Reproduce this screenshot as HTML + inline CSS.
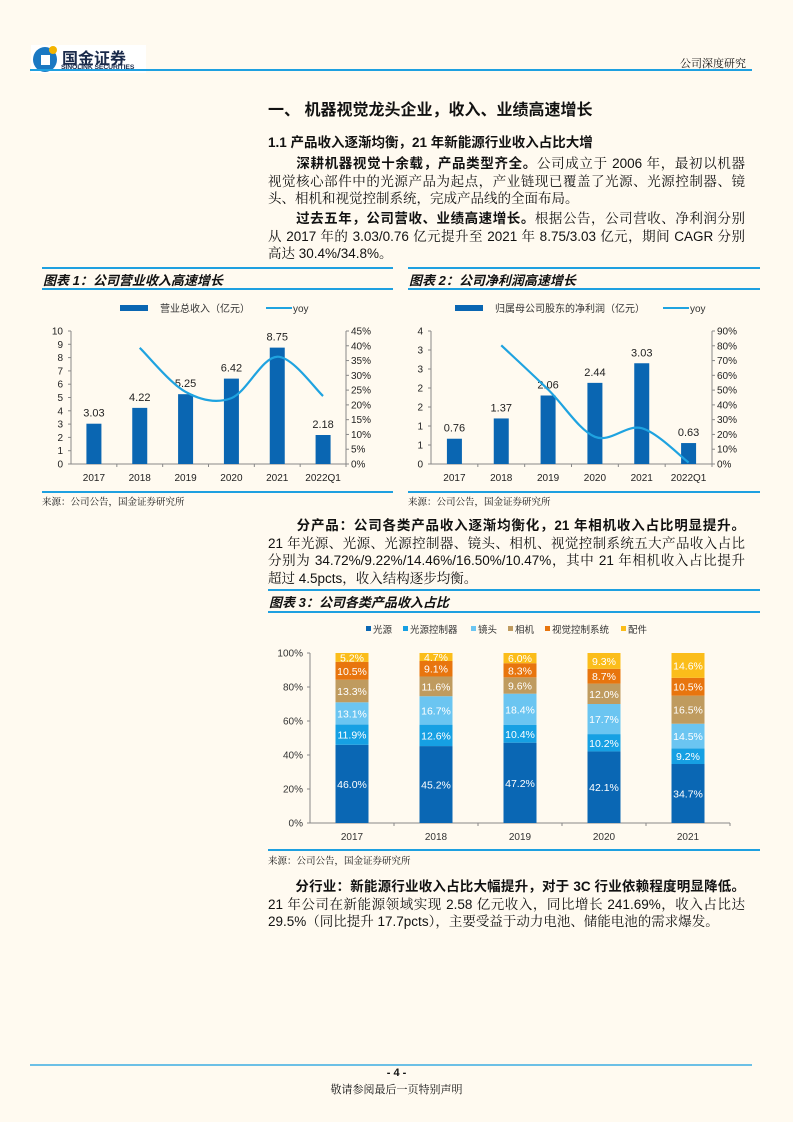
<!DOCTYPE html>
<html><head><meta charset="utf-8">
<style>
html,body{margin:0;padding:0;background:#fffaf0;}
body{width:793px;height:1122px;position:relative;overflow:hidden;font-family:"Liberation Sans","Noto Serif CJK SC","Noto Sans CJK SC",serif;color:#111;}
.abs{position:absolute;}
.ln{position:absolute;left:268px;width:477px;font-size:13.5px;line-height:17px;white-space:nowrap;text-align:justify;text-align-last:justify;}
.last{text-align-last:left;}
b{font-family:"Liberation Sans","Noto Sans CJK SC",sans-serif;font-weight:bold;}
.ct{position:absolute;font-family:"Liberation Sans","Noto Sans CJK SC",sans-serif;font-weight:bold;font-style:italic;font-size:13px;}
.hr{position:absolute;height:2px;background:#1ea0e0;}
.src{position:absolute;font-size:9.5px;font-family:"Liberation Serif","Noto Serif CJK SC",serif;}
svg text{font-family:"Liberation Sans","Noto Sans CJK SC",sans-serif;}
</style></head><body>
<div class="abs" style="left:31px;top:45px;width:115px;height:28px;background:#fff;">
  <div class="abs" style="left:2px;top:2px;width:24px;height:25px;border-radius:50%;background:#1a78c2;"></div>
  <div class="abs" style="left:10px;top:10px;width:9px;height:10px;background:#fff;"></div>
  <div class="abs" style="left:18px;top:1px;width:8px;height:8px;border-radius:50%;background:#f4b400;"></div>
  <div class="abs" style="left:31px;top:0px;font-size:16px;font-weight:bold;font-family:'Liberation Sans','Noto Sans CJK SC',sans-serif;color:#1a2a4a;">国金证券</div>
  <div class="abs" style="left:30px;top:19px;font-size:6.8px;font-weight:bold;color:#1a2a4a;letter-spacing:-0.1px;">SINOLINK SECURITIES</div>
</div>
<div class="abs" style="left:680px;top:55px;font-size:11px;">公司深度研究</div>
<div class="hr" style="left:30px;top:69px;width:722px;height:1.5px;"></div>

<div class="abs" style="left:268px;top:96px;font-size:16px;font-weight:bold;font-family:'Liberation Sans','Noto Sans CJK SC',sans-serif;">一、 机器视觉龙头企业，收入、业绩高速增长</div>
<div class="abs" style="left:268px;top:131px;font-size:13.5px;font-weight:bold;font-family:'Liberation Sans','Noto Sans CJK SC',sans-serif;">1.1 产品收入逐渐均衡，21 年新能源行业收入占比大增</div>

<div class="ln" style="top:155px;">　　<b>深耕机器视觉十余载，产品类型齐全。</b>公司成立于 2006 年，最初以机器</div>
<div class="ln" style="top:172.5px;">视觉核心部件中的光源产品为起点，产业链现已覆盖了光源、光源控制器、镜</div>
<div class="ln last" style="top:190px;">头、相机和视觉控制系统，完成产品线的全面布局。</div>
<div class="ln" style="top:210px;">　　<b>过去五年，公司营收、业绩高速增长。</b>根据公告，公司营收、净利润分别</div>
<div class="ln" style="top:227.5px;">从 2017 年的 3.03/0.76 亿元提升至 2021 年 8.75/3.03 亿元，期间 CAGR 分别</div>
<div class="ln last" style="top:245px;">高达 30.4%/34.8%。</div>

<div class="hr" style="left:42px;top:267px;width:351px;"></div>
<div class="hr" style="left:42px;top:288px;width:351px;"></div>
<div class="ct" style="left:43px;top:270px;">图表 1：公司营业收入高速增长</div>
<div class="hr" style="left:408px;top:267px;width:352px;"></div>
<div class="hr" style="left:408px;top:288px;width:352px;"></div>
<div class="ct" style="left:409px;top:270px;">图表 2：公司净利润高速增长</div>
<svg id="c1" class="abs" style="left:0;top:0" width="793" height="520"></svg>
<div class="hr" style="left:42px;top:491px;width:351px;"></div>
<div class="hr" style="left:408px;top:491px;width:352px;"></div>
<div class="src" style="left:42px;top:494px;">来源：公司公告，国金证券研究所</div>
<div class="src" style="left:408px;top:494px;">来源：公司公告，国金证券研究所</div>

<div class="ln" style="top:517px;">　　<b>分产品：公司各类产品收入逐渐均衡化，21 年相机收入占比明显提升。</b></div>
<div class="ln" style="top:534.5px;">21 年光源、光源、光源控制器、镜头、相机、视觉控制系统五大产品收入占比</div>
<div class="ln" style="top:552px;">分别为 34.72%/9.22%/14.46%/16.50%/10.47%，其中 21 年相机收入占比提升</div>
<div class="ln last" style="top:569.5px;">超过 4.5pcts，收入结构逐步均衡。</div>

<div class="hr" style="left:268px;top:589px;width:492px;"></div>
<div class="hr" style="left:268px;top:611px;width:492px;"></div>
<div class="ct" style="left:269px;top:592px;">图表 3：公司各类产品收入占比</div>
<svg id="c3" class="abs" style="left:0;top:0" width="793" height="860"></svg>
<div class="hr" style="left:268px;top:849px;width:492px;"></div>
<div class="src" style="left:268px;top:853px;">来源：公司公告，国金证券研究所</div>

<div class="ln" style="top:878px;">　　<b>分行业：新能源行业收入占比大幅提升，对于 3C 行业依赖程度明显降低。</b></div>
<div class="ln" style="top:895.5px;">21 年公司在新能源领域实现 2.58 亿元收入，同比增长 241.69%，收入占比达</div>
<div class="ln last" style="top:913px;">29.5%（同比提升 17.7pcts），主要受益于动力电池、储能电池的需求爆发。</div>

<div class="abs" style="left:30px;top:1064px;width:722px;height:1.5px;background:#6cc0e6;"></div>
<div class="abs" style="left:0;width:793px;text-align:center;top:1067px;font-size:11px;font-weight:bold;">- 4 -</div>
<div class="abs" style="left:0;width:793px;text-align:center;top:1081px;font-size:11px;">敬请参阅最后一页特别声明</div>

<script>
const cats12 = ["2017","2018","2019","2020","2021","2022Q1"];
const revenue = [3.03,4.22,5.25,6.42,8.75,2.18];
const revYoy = [null,39.3,24.4,22.3,36.3,23.0];
const profit = [0.76,1.37,2.06,2.44,3.03,0.63];
const profitYoy = [null,80.3,50.4,18.4,24.2,1.0];
const leftTicks1 = ["0","1","2","3","4","5","6","7","8","9","10"];
const rightTicks1 = ["0%","5%","10%","15%","20%","25%","30%","35%","40%","45%"];
const leftTicks2 = ["0","1","1","2","2","3","3","4"];
const rightTicks2 = ["0%","10%","20%","30%","40%","50%","60%","70%","80%","90%"];
const cats3 = ["2017","2018","2019","2020","2021"];
const series3 = ["光源","光源控制器","镜头","相机","视觉控制系统","配件"];
const s光源 = [46.0,45.2,47.2,42.1,34.7];
const s控制器 = [11.9,12.6,10.4,10.2,9.2];
const s镜头 = [13.1,16.7,18.4,17.7,14.5];
const s相机 = [13.3,11.6,9.6,12.0,16.5];
const s视觉 = [10.5,9.1,8.3,8.7,10.5];
const s配件 = [5.2,4.7,6.0,9.3,14.6];
const ticks3 = ["0%","20%","40%","60%","80%","100%"];

const NS="http://www.w3.org/2000/svg";
function mk(svg,tag,attrs,txt){const e=document.createElementNS(NS,tag);for(const k in attrs)e.setAttribute(k,attrs[k]);if(txt!=null)e.textContent=txt;svg.appendChild(e);return e;}
function smooth(pts){let d="M"+pts[0][0]+","+pts[0][1];for(let i=0;i<pts.length-1;i++){const p0=pts[i-1]||pts[i],p1=pts[i],p2=pts[i+1],p3=pts[i+2]||p2;const t=6;d+=" C"+(p1[0]+(p2[0]-p0[0])/t)+","+(p1[1]+(p2[1]-p0[1])/t)+" "+(p2[0]-(p3[0]-p1[0])/t)+","+(p2[1]-(p3[1]-p1[1])/t)+" "+p2[0]+","+p2[1];}return d;}

function barLine(svg,o){
  const x0=o.x0,x1=o.x1,yb=464,yt=331,band=(x1-x0)/o.cats.length;
  const xc=i=>x0+band*(i+0.5);
  const yL=v=>yb-(v/o.lmax)*(yb-yt);
  const yR=v=>yb-(v/o.rmax)*(yb-yt);
  let a=mk(svg,"line",{x1:x0,y1:yt,x2:x0,y2:yb,stroke:"#888","stroke-width":1});
  
  a=mk(svg,"line",{x1:x1,y1:yt,x2:x1,y2:yb,stroke:"#888","stroke-width":1});
  
  a=mk(svg,"line",{x1:x0,y1:yb,x2:x1,y2:yb,stroke:"#888","stroke-width":1});
  
  o.lt.forEach((t,i)=>{const y=yb-i*(yb-yt)/(o.lt.length-1);
    mk(svg,"line",{x1:x0-3,y1:y,x2:x0,y2:y,stroke:"#888"});
    const e=mk(svg,"text",{x:x0-8,y:y+3.5,"text-anchor":"end","font-size":10,fill:"#222"},t);
    });
  o.rt.forEach((t,i)=>{const y=yb-i*(yb-yt)/(o.rt.length-1);
    mk(svg,"line",{x1:x1,y1:y,x2:x1+3,y2:y,stroke:"#888"});
    const e=mk(svg,"text",{x:x1+5,y:y+3.5,"font-size":10,fill:"#222"},t);
    });
  o.cats.forEach((c,i)=>{
    mk(svg,"line",{x1:x0+band*(i+1),y1:yb,x2:x0+band*(i+1),y2:yb+3,stroke:"#888"});
    const v=o.bars[i],bw=15;
    const r=mk(svg,"rect",{x:xc(i)-bw/2,y:yL(v),width:bw,height:yb-yL(v),fill:"#0a66b2"});
    
    const l=mk(svg,"text",{x:xc(i),y:yL(v)-7,"text-anchor":"middle","font-size":11,fill:"#222"},v.toFixed(2));
    
    const xl=mk(svg,"text",{x:xc(i),y:481,"text-anchor":"middle","font-size":10,fill:"#222"},c);
    
  });
  const pts=[];o.yoy.forEach((v,i)=>{if(v!=null)pts.push([xc(i),yR(v)]);});
  const p=mk(svg,"path",{d:smooth(pts),fill:"none",stroke:"#1fa3e0","stroke-width":2.2});
  
  const lg=o.lg;
  let s=mk(svg,"rect",{x:lg[0],y:305,width:28,height:6,fill:"#0a66b2"});
  
  s=mk(svg,"text",{x:lg[1],y:312,"font-size":10,fill:"#333"},o.lname);
  
  s=mk(svg,"line",{x1:lg[2],y1:308,x2:lg[2]+26,y2:308,stroke:"#1fa3e0","stroke-width":2});
  
  s=mk(svg,"text",{x:lg[2]+27,y:312,"font-size":10,fill:"#333"},"yoy");
  
}
const c1=document.getElementById("c1");
barLine(c1,{x0:71,x1:346,cats:cats12,bars:revenue,yoy:revYoy,lmax:10,rmax:45,lt:leftTicks1,rt:rightTicks1,lg:[120,160,266],lname:"营业总收入（亿元）"});
barLine(c1,{x0:431,x1:712,cats:cats12,bars:profit,yoy:profitYoy,lmax:4,rmax:90,lt:leftTicks2,rt:rightTicks2,lg:[455,495,663],lname:"归属母公司股东的净利润（亿元）"});

const c3=document.getElementById("c3");
(function(){
  const x0=310,x1=730,yb=823,yt=653,band=(x1-x0)/cats3.length,bw=33;
  const cols=["#0a67b4","#16a0e3","#6bc5f1","#bf9b5f","#e8750e","#fbbd1a"];
  const data=[s光源,s控制器,s镜头,s相机,s视觉,s配件];
  const y=v=>yb-v/100*(yb-yt);
  let a=mk(c3,"line",{x1:x0,y1:yt,x2:x0,y2:yb,stroke:"#888"});
  
  a=mk(c3,"line",{x1:x0,y1:yb,x2:x1,y2:yb,stroke:"#888"});
  
  ticks3.forEach((t,i)=>{const yy=yb-i*(yb-yt)/(ticks3.length-1);
    mk(c3,"line",{x1:x0-3,y1:yy,x2:x0,y2:yy,stroke:"#888"});
    const e=mk(c3,"text",{x:x0-7,y:yy+3.5,"text-anchor":"end","font-size":10,fill:"#333"},t);
    });
  cats3.forEach((c,i)=>{
    mk(c3,"line",{x1:x0+band*(i+1),y1:yb,x2:x0+band*(i+1),y2:yb+3,stroke:"#888"});
    const xc=x0+band*(i+0.5);
    const tot=data.reduce((s,d)=>s+d[i],0);
    let cum=0;
    data.forEach((d,k)=>{
      const v=d[i]/tot*100;
      const r=mk(c3,"rect",{x:xc-bw/2,y:y(cum+v),width:bw,height:y(cum)-y(cum+v),fill:cols[k]});
      
      const l=mk(c3,"text",{x:xc,y:(y(cum)+y(cum+v))/2+4,"text-anchor":"middle","font-size":10.5,fill:"#fff"},d[i].toFixed(1)+"%");
      
      cum+=v;
    });
    const xl=mk(c3,"text",{x:xc,y:840,"text-anchor":"middle","font-size":10,fill:"#333"},c);
    
  });
  const lx=[366,403,471,508,545,621];
  series3.forEach((n,k)=>{
    const s=mk(c3,"rect",{x:lx[k],y:626,width:5,height:5,fill:cols[k]});
    
    const t=mk(c3,"text",{x:lx[k]+7,y:633,"font-size":9.5,fill:"#333"},n);
    
  });
})();
</script>
</body></html>
